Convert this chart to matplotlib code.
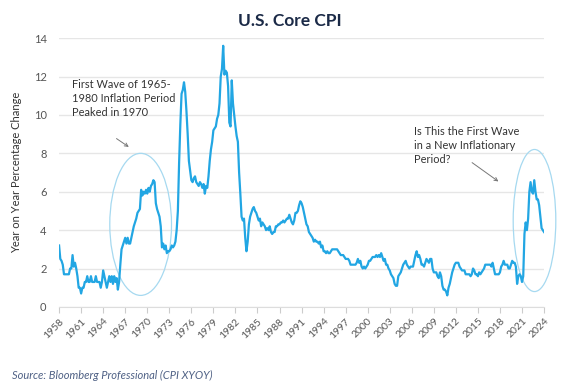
import numpy as np
import matplotlib.pyplot as plt
from matplotlib.patches import Ellipse

plt.rcParams["font.family"] = ["Lato", "DejaVu Sans"]

# core CPI, % change year on year, read every 2 months (Jan, Mar, May, Jul, Sep, Nov)
cpi_1958_1969 = [
    3.2, 2.5, 2.4, 2.2, 1.7, 1.7,
    1.7, 1.7, 1.7, 2.0, 2.0, 2.7,
    2.1, 2.3, 2.0, 1.6, 1.0, 1.0,
    0.7, 1.0, 1.0, 1.3, 1.3, 1.6,
    1.3, 1.3, 1.6, 1.3, 1.3, 1.3,
    1.6, 1.3, 1.3, 1.3, 1.0, 1.3,
    1.9, 1.6, 1.3, 1.0, 1.3, 1.6,
    1.3, 1.6, 1.2, 1.6, 1.3, 1.5,
    0.9, 1.3, 2.2, 3.0, 3.2, 3.4,
    3.6, 3.3, 3.6, 3.3, 3.3, 3.6,
    3.9, 4.2, 4.4, 4.6, 4.9, 5.0,
    5.1, 6.1, 5.8, 6.0, 5.9, 6.1,
]
cpi_1970_1979 = [
    5.9, 6.2, 6.0, 6.3, 6.4, 6.6,
    6.5, 5.4, 5.1, 4.9, 4.7, 4.2,
    3.1, 3.3, 3.0, 3.2, 2.8, 2.9,
    2.9, 3.0, 3.2, 3.1, 3.2, 3.4,
    4.0, 5.0, 7.5, 9.5, 11.1, 11.3,
    11.7, 11.2, 10.2, 9.0, 7.6, 7.1,
    6.6, 6.5, 6.7, 6.8, 6.5, 6.4,
    6.3, 6.5, 6.4, 6.2, 6.4, 5.9,
    6.3, 6.2, 6.8, 7.6, 8.2, 8.6,
    9.2, 9.3, 9.4, 9.8, 10.0, 10.6,
]
cpi_1980_1989 = [
    12.0, 12.4, 13.6, 12.1, 12.3, 12.2,
    11.5, 9.6, 9.4, 11.8, 10.6, 10.0,
    9.4, 8.9, 8.6, 7.0, 5.9, 4.7,
    4.5, 4.6, 3.6, 2.9, 3.4, 4.3,
    4.7, 4.9, 5.1, 5.2, 5.0, 4.9,
    4.7, 4.5, 4.6, 4.2, 4.4, 4.3,
    4.2, 4.0, 4.1, 4.0, 4.2, 3.9,
    3.8, 3.9, 3.9, 4.2, 4.2, 4.3,
    4.3, 4.4, 4.4, 4.5, 4.4, 4.5,
    4.6, 4.6, 4.8, 4.6, 4.4, 4.3,
]
cpi_1990_1999 = [
    4.5, 4.9, 4.9, 5.0, 5.3, 5.5,
    5.4, 5.2, 4.9, 4.6, 4.3, 4.2,
    3.9, 3.8, 3.7, 3.6, 3.4, 3.5,
    3.4, 3.4, 3.3, 3.4, 3.1, 3.2,
    2.9, 2.9, 2.8, 2.9, 2.8, 2.8,
    2.9, 3.0, 3.0, 3.0, 3.0, 3.0,
    2.9, 2.8, 2.7, 2.7, 2.7, 2.6,
    2.5, 2.5, 2.5, 2.4, 2.2, 2.2,
    2.2, 2.2, 2.2, 2.3, 2.5, 2.3,
    2.4, 2.1, 2.0, 2.1, 2.0, 2.1,
]
cpi_2000_2009 = [
    2.2, 2.4, 2.4, 2.5, 2.6, 2.6,
    2.6, 2.7, 2.6, 2.7, 2.6, 2.8,
    2.6, 2.4, 2.5, 2.2, 2.2, 2.0,
    1.9, 1.7, 1.6, 1.5, 1.2, 1.1,
    1.1, 1.6, 1.7, 1.8, 2.0, 2.2,
    2.3, 2.4, 2.2, 2.1, 2.0, 2.1,
    2.1, 2.1, 2.4, 2.7, 2.9, 2.6,
    2.7, 2.5, 2.2, 2.2, 2.1, 2.3,
    2.5, 2.4, 2.3, 2.5, 2.5, 2.0,
    1.8, 1.8, 1.8, 1.6, 1.5, 1.8,
]
cpi_2010_2023 = [
    1.6, 1.1, 0.9, 0.9, 0.8, 0.6,
    1.0, 1.2, 1.5, 1.8, 2.0, 2.2,
    2.3, 2.3, 2.3, 2.1, 2.0, 1.9,
    1.9, 1.9, 1.7, 1.7, 1.7, 1.7,
    1.6, 1.7, 2.0, 1.9, 1.7, 1.7,
    1.6, 1.8, 1.7, 1.8, 1.9, 2.0,
    2.2, 2.2, 2.2, 2.2, 2.2, 2.1,
    2.3, 2.0, 1.7, 1.7, 1.7, 1.7,
    1.8, 2.1, 2.2, 2.4, 2.2, 2.2,
    2.2, 2.0, 2.0, 2.2, 2.4, 2.3,
    2.3, 2.1, 1.2, 1.6, 1.7, 1.6,
    1.3, 1.6, 3.8, 4.4, 4.0, 4.6,
    6.0, 6.5, 6.0, 5.9, 6.6, 6.0,
    5.6, 5.6, 5.3, 4.7, 4.1, 4.0,
]
cpi_2024 = [3.9]

start_year = 1958
readings_per_year = 6
year_ticks = list(range(1958, 2025, 3))
y_ticks = [0, 2, 4, 6, 8, 10, 12, 14]

note_1970 = "First Wave of 1965-\n1980 Inflation Period\nPeaked in 1970"
note_2021 = "Is This the First Wave\nin a New Inflationary\nPeriod?"

values = np.array(cpi_1958_1969 + cpi_1970_1979 + cpi_1980_1989
                  + cpi_1990_1999 + cpi_2000_2009 + cpi_2010_2023 + cpi_2024)
dates = start_year + np.arange(len(values)) / readings_per_year

fig = plt.figure(figsize=(5.85, 3.89), dpi=100)
ax = fig.add_axes([0.101, 0.211, 0.829, 0.691])

ax.plot(dates, values, color="#22a6e3", lw=1.6, solid_joinstyle="round")

ax.set_xlim(1958, 2024)
ax.set_ylim(0, 14)
ax.set_xticks(year_ticks)
ax.set_xticklabels([str(y) for y in year_ticks], rotation=45, ha="right",
                   rotation_mode="anchor", fontsize=7.5, color="#555555")
ax.set_yticks(y_ticks)
ax.set_yticklabels([str(v) for v in y_ticks], fontsize=8, color="#555555")
ax.tick_params(axis="x", length=4, color="#cccccc", pad=3)
ax.tick_params(axis="y", length=0, pad=9)

ax.grid(axis="y", color="#e6e6e6", lw=1)
ax.set_axisbelow(True)
for side in ["top", "right", "left"]:
    ax.spines[side].set_visible(False)
ax.spines["bottom"].set_color("#dddddd")

ax.set_ylabel("Year on Year Percentage Change", fontsize=8, color="#333333", labelpad=8)

# circles around the two waves
ax.add_patch(Ellipse((1969.1, 4.3), 8.4, 7.4, fill=False, ec="#a6d9f0", lw=0.9, clip_on=False))
ax.add_patch(Ellipse((2022.7, 4.5), 5.8, 7.4, fill=False, ec="#a6d9f0", lw=0.9, clip_on=False))

ax.text(1959.7, 10.85, note_1970, fontsize=7.9, color="#333333", va="center", linespacing=1.3)
ax.text(2006.35, 8.4, note_2021, fontsize=7.9, color="#333333", va="center", linespacing=1.3)

ax.annotate("", xy=(1967.8, 8.25), xytext=(1965.5, 8.85),
            arrowprops=dict(arrowstyle="->", color="#777777", lw=0.7, mutation_scale=6))
ax.annotate("", xy=(2018.1, 6.45), xytext=(2013.9, 7.6),
            arrowprops=dict(arrowstyle="->", color="#777777", lw=0.7, mutation_scale=6))

fig.text(0.496, 0.946, "U.S. Core CPI", ha="center", va="center", fontsize=12.5,
         fontweight="bold", color="#1b2a47")
fig.text(0.02, 0.036, "Source: Bloomberg Professional (CPI XYOY)", ha="left", va="center",
         fontsize=8, style="italic", color="#4f6185")

fig.savefig("out.png", dpi=100)
